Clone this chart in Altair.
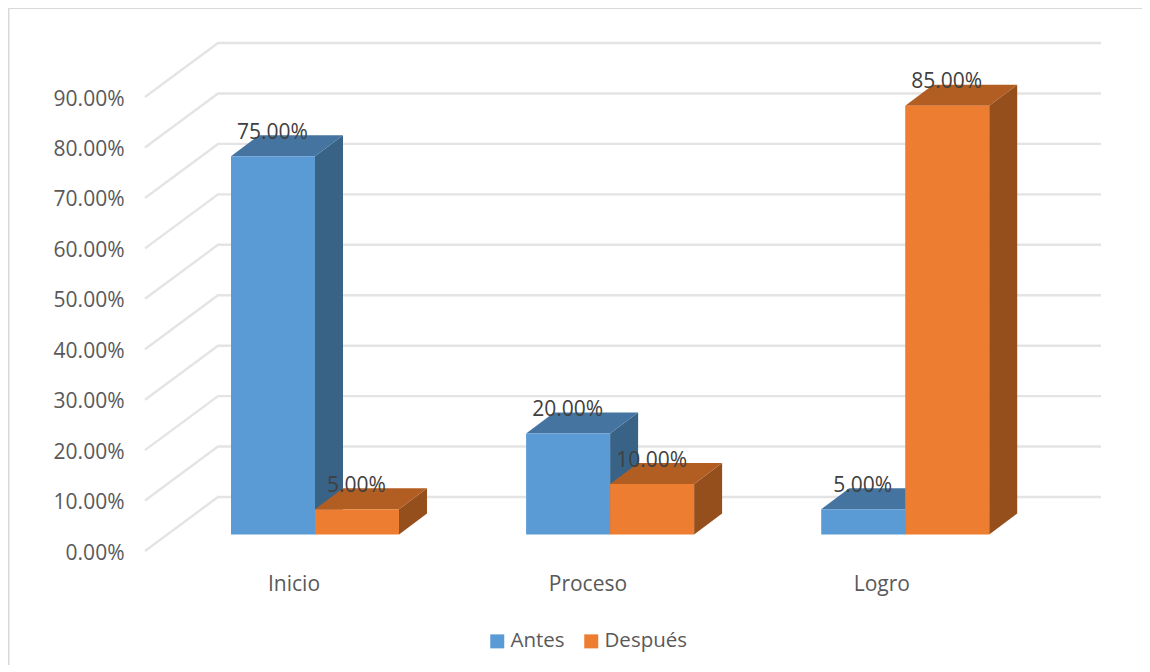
import altair as alt
import pandas as pd

categories = ["Inicio", "Proceso", "Logro"]
series_names = ["Antes", "Después"]
antes = [75, 20, 5]
despues = [5, 10, 85]
y_ticks = [0, 10, 20, 30, 40, 50, 60, 70, 80, 90]

FONT = "Open Sans"
W, H = 1134, 657
# horizontal unit: one category step; vertical unit: one percentage point
STEP = 295.1
PXU = 5.044
X0 = (8 - 293.5) / STEP
X1 = X0 + W / STEP
Y1 = (551 - 8) / PXU
Y0 = Y1 - H / PXU
BAR_W = 84 / STEP
BAR_LEFT = (231 - 293.5) / STEP
DEPTH_X = 28 / STEP
DEPTH_Y = 21 / PXU
BASE = 16.5 / PXU
WALL_X = 73 / STEP
WALL_Y = 54 / PXU
WALL_RIGHT = (1101 - 293.5) / STEP
WALL_LEFT = (145 - 293.5) / STEP
COLORS = {"Antes": ("#5B9BD5", "#44749F", "#386387"),
          "Después": ("#ED7D31", "#B25D22", "#954F1C")}

xs = alt.Scale(domain=[X0, X1], nice=False, zero=False)
ys = alt.Scale(domain=[Y0, Y1], nice=False, zero=False)
x_axis = alt.Axis(
    values=[0, 0.996, 1.992], title=None, domain=False, ticks=False, grid=False,
    labelExpr="['Inicio','Proceso','Logro'][round(datum.value)]",
    labelFont=FONT, labelFontSize=21, labelColor="#595959",
    labelPadding=0, offset=-92)
y_axis = alt.Axis(
    values=y_ticks, title=None, domain=False, ticks=False, grid=False,
    labelExpr="format(datum.value,'.2f')+'%'",
    labelFont=FONT, labelFontSize=21, labelColor="#595959",
    labelPadding=0, labelOffset=2, offset=-116)
X = lambda f: alt.X(f"{f}:Q", scale=xs, axis=x_axis)
Y = lambda f: alt.Y(f"{f}:Q", scale=ys, axis=y_axis)

# gridlines: floor-to-back slant, then along the back wall
grid = []
for v in y_ticks:
    grid += [dict(level=v, o=0, x=WALL_LEFT, y=v),
             dict(level=v, o=1, x=WALL_LEFT + WALL_X, y=v + WALL_Y),
             dict(level=v, o=2, x=WALL_RIGHT, y=v + WALL_Y)]
grid_layer = alt.Chart(pd.DataFrame(grid)).mark_line(
    color="#E4E4E4", strokeWidth=2.4, strokeJoin="miter"
).encode(X("x"), Y("y"), detail="level:N", order="o:Q")

front, labels = [], []
layers = [grid_layer]
for s, (name, vals) in enumerate(zip(series_names, [antes, despues])):
    side, top = [], []
    for i, v in enumerate(vals):
        a = i + BAR_LEFT + s * BAR_W
        b = a + BAR_W
        t = BASE + v
        front.append(dict(series=name, x=a, x2=b, y=BASE, y2=t))
        labels.append(dict(x=(a + b) / 2 - 0.5 / STEP, y=t + 23.5 / PXU, t=f"{v:.2f}%"))
        side += [dict(g=i, x=b, lo=BASE, hi=t),
                 dict(g=i, x=b + DEPTH_X, lo=BASE + DEPTH_Y, hi=t + DEPTH_Y)]
        top += [dict(g=i, x=a, lo=t, hi=t),
                dict(g=i, x=a + DEPTH_X, lo=t, hi=t + DEPTH_Y),
                dict(g=i, x=b, lo=t, hi=t + DEPTH_Y),
                dict(g=i, x=b + DEPTH_X, lo=t + DEPTH_Y, hi=t + DEPTH_Y)]
    _, ctop, cside = COLORS[name]
    layers.append(alt.Chart(pd.DataFrame(side)).mark_area(color=cside, interpolate="linear")
                  .encode(X("x"), Y("lo"), y2="hi:Q", detail="g:N"))
    layers.append(alt.Chart(pd.DataFrame(top)).mark_area(color=ctop, interpolate="linear")
                  .encode(X("x"), Y("lo"), y2="hi:Q", detail="g:N"))

front_layer = alt.Chart(pd.DataFrame(front)).mark_rect().encode(
    X("x"), x2="x2:Q", y=Y("y"), y2="y2:Q",
    color=alt.Color("series:N",
                    scale=alt.Scale(domain=series_names,
                                    range=[COLORS[n][0] for n in series_names]),
                    legend=alt.Legend(
                        title=None, orient="none", direction="horizontal",
                        legendX=479, legendY=623, symbolType="square", symbolSize=196,
                        symbolStrokeWidth=0, labelFont=FONT, labelFontSize=20.5,
                        labelColor="#595959", columnPadding=16, labelOffset=3)),
)
layers.append(front_layer)

label_layer = alt.Chart(pd.DataFrame(labels)).mark_text(
    font=FONT, fontSize=21, color="#404040", baseline="middle", align="center"
).encode(X("x"), Y("y"), text="t:N")
layers.append(label_layer)

# chart frame: left and top edges only
frame_left = alt.Chart(pd.DataFrame({"k": [0]})).mark_rule(color="#D9D9D9", strokeWidth=3).encode(
    x=alt.value(0), y=alt.value(0), y2=alt.value(H))
frame_top = alt.Chart(pd.DataFrame({"k": [0]})).mark_rule(color="#D9D9D9", strokeWidth=2).encode(
    y=alt.value(0), x=alt.value(0), x2=alt.value(W))
layers += [frame_left, frame_top]

chart = alt.layer(*layers).properties(
    width=W, height=H, padding=0,
    autosize=alt.AutoSizeParams(type="none"),
    background="white",
).configure_view(stroke=None)

chart.save("out.html", embed_options={"renderer": "svg", "actions": False})
